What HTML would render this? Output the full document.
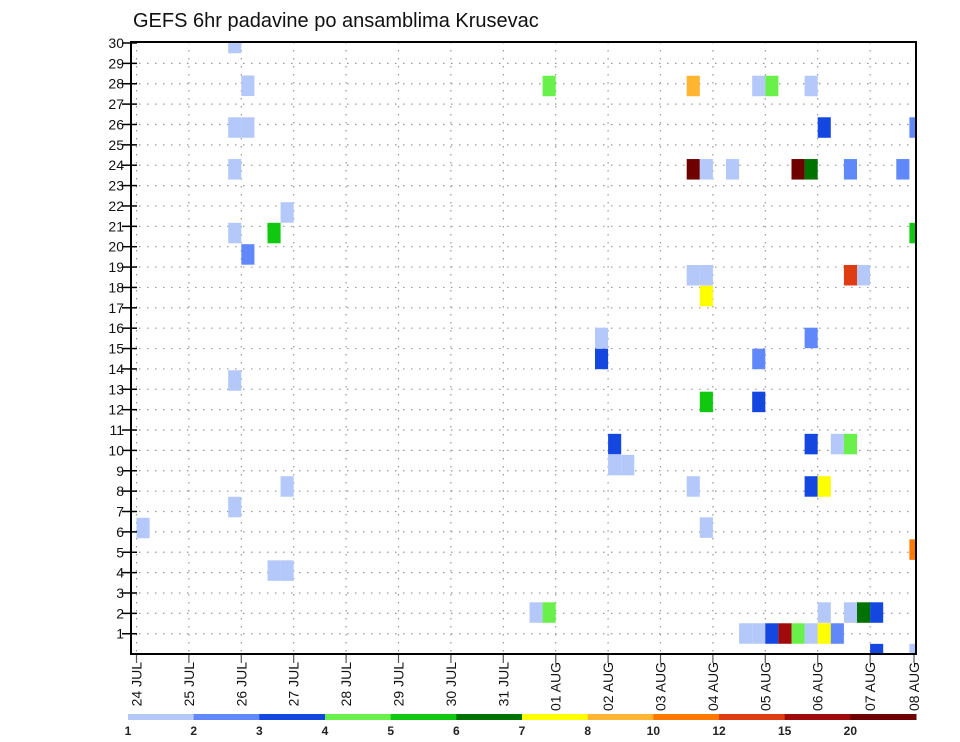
<!DOCTYPE html>
<html><head><meta charset="utf-8"><style>
html,body{margin:0;padding:0;background:#fff;}
svg{display:block;font-family:"Liberation Sans",sans-serif;}
</style></head><body>
<svg id="chart" width="960" height="742" viewBox="0 0 960 742" xmlns="http://www.w3.org/2000/svg">
<text x="133" y="27" font-size="20" fill="#111">GEFS 6hr padavine po ansamblima Krusevac</text>
<g id="grid"></g>
<g id="cells"></g>
<g id="axes"></g>
<g id="legend"></g>
</svg>
<script>
const dayLabels = ["24 JUL","25 JUL","26 JUL","27 JUL","28 JUL","29 JUL","30 JUL","31 JUL","01 AUG","02 AUG","03 AUG","04 AUG","05 AUG","06 AUG","07 AUG","08 AUG"];
const memberTicks = [1,2,3,4,5,6,7,8,9,10,11,12,13,14,15,16,17,18,19,20,21,22,23,24,25,26,27,28,29,30];
const levelColors = ["#b4c8fa","#6088f8","#1446e0","#6af04a","#10c810","#007200","#ffff00","#ffb432","#ff7800","#e03c14","#a00a0a","#6e0000"];
const levelLabels = ["1","2","3","4","5","6","7","8","10","12","15","20"];
// each cell: 6h step index, member row position, color level
const cellSteps = [7,8,7,8,7,11,7,10,8,7,11,7,0,10,11,36,36,37,42,43,30,31,46,47,48,49,50,51,52,53,42,43,43,35,35,47,43,47,54,55,51,51,53,54,51,52,59,42,47,48,51,31,52,59,42,43,45,50,51,54,58,59,52,54,55,56,56,59];
const cellMembers = [30,27.9,25.85,25.85,23.8,21.68,20.67,20.67,19.62,13.43,8.23,7.22,6.19,4.1,4.1,10.31,9.28,9.28,8.23,6.21,2.04,2.04,1.01,1.01,1.01,1.01,1.01,1.01,1.01,1.01,18.6,18.6,17.58,15.52,14.49,14.49,12.38,12.38,18.6,18.6,15.52,10.31,10.31,10.31,8.23,8.23,5.13,27.89,27.89,27.89,27.89,27.89,25.85,25.85,23.8,23.8,23.8,23.8,23.8,23.8,23.8,20.67,2.04,2.04,2.04,2.04,0,0];
const cellLevels = [0,0,0,0,0,0,0,4,1,0,0,0,0,0,0,2,0,0,0,0,0,3,0,0,2,10,3,0,6,1,0,0,6,0,2,1,4,2,9,0,1,2,0,3,2,6,8,7,0,3,0,3,2,1,11,0,0,11,5,1,1,4,0,0,5,2,2,0];

const NS="http://www.w3.org/2000/svg";
const L=131,R=916,T=42,B=654;
const xDay=d=>136.5+52.4*d;
const yVal=v=>43+(30-v)*20.37;
function mk(tag,attrs,parent){const e=document.createElementNS(NS,tag);for(const k in attrs)e.setAttribute(k,attrs[k]);parent.appendChild(e);return e;}
const grid=document.getElementById('grid'),cells=document.getElementById('cells'),axes=document.getElementById('axes'),legend=document.getElementById('legend');

memberTicks.forEach(v=>{
  const y=yVal(v);
  if(v<30){const g=mk('line',{x1:L,x2:R,y1:y,y2:y,stroke:'#999','stroke-width':1.2,'stroke-dasharray':'1.5,6.5'},grid);
  
  }
  const t=mk('line',{x1:L-9,x2:L+6,y1:y,y2:y,stroke:'#000','stroke-width':1.5},axes);
  
  
  const tx=mk('text',{x:124,y:y+5,'text-anchor':'end','font-size':14,fill:'#111'},axes);
  tx.textContent=v;
  
  
});
dayLabels.forEach((lab,i)=>{
  let x=xDay(i);
  if(x<R-2){const g=mk('line',{x1:x,x2:x,y1:T,y2:B,stroke:'#999','stroke-width':1.2,'stroke-dasharray':'1.5,6.5'},grid);
  
  }
  x=Math.min(x,914);
  const t=mk('line',{x1:x,x2:x,y1:B,y2:B+9,stroke:'#555','stroke-width':1.2},axes);
  
  
  const tx=mk('text',{x:0,y:0,'text-anchor':'end','font-size':14,fill:'#111',transform:`translate(${x+5},662) rotate(-90)`},axes);
  tx.textContent=lab;
  
  
});
for(let i=0;i<cellSteps.length;i++){
  const x0=xDay(cellSteps[i]/4),x1=Math.min(xDay((cellSteps[i]+1)/4),R);
  const yc=yVal(cellMembers[i]);
  const y0=Math.max(yc-10.25,T),y1=Math.min(yc+10.25,B);
  const r=mk('rect',{x:x0,y:y0,width:x1-x0,height:y1-y0,fill:levelColors[cellLevels[i]]},cells);
  
  
}
const fr=mk('rect',{x:L,y:T,width:R-L,height:B-T,fill:'none',stroke:'#000','stroke-width':2},axes);


const segW=(916-128)/levelColors.length;
levelColors.forEach((c,i)=>{
  const r=mk('rect',{x:128+i*segW,y:714,width:segW+0.5,height:6,fill:c},legend);
  
  
  const t=mk('text',{x:128+i*segW,y:735,'text-anchor':'middle','font-size':12,'font-weight':'bold',fill:'#222'},legend);
  t.textContent=levelLabels[i];
  
  
});
</script>
</body></html>
